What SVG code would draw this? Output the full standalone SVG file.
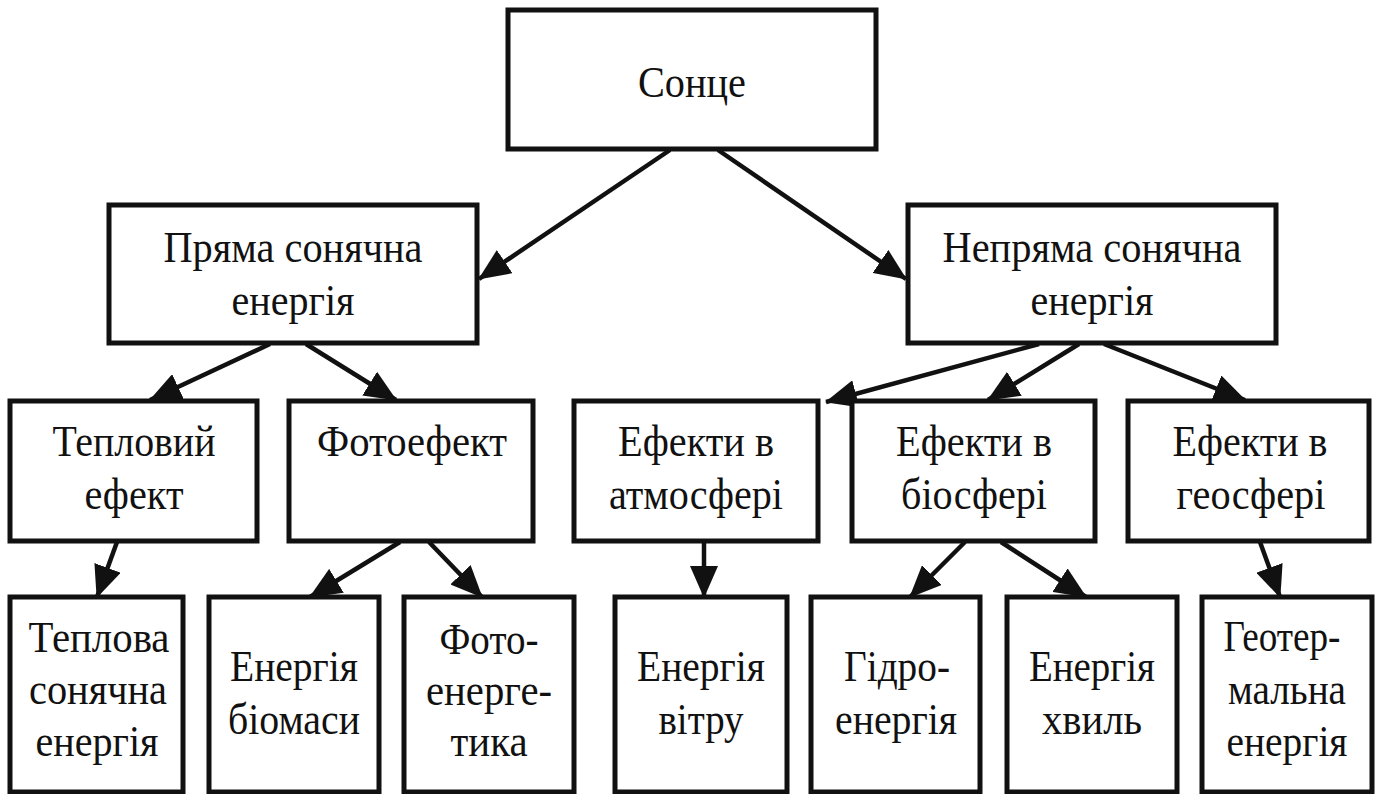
<svg xmlns="http://www.w3.org/2000/svg" width="1382" height="794" viewBox="0 0 1382 794">
<style>
.box{fill:#fff;stroke:#111;stroke-width:5}
.t{font-family:"Liberation Serif","Times New Roman",serif;font-size:44px;fill:#111;text-anchor:middle}
.c{fill:none;stroke:#111;stroke-width:4.5}
</style>
<defs>
<marker id="ah" markerUnits="userSpaceOnUse" markerWidth="34" markerHeight="28" viewBox="0 0 34 28" refX="31" refY="14" orient="auto">
<path d="M0,0 L32,14 L0,28 Z" fill="#111"/>
</marker>
</defs>
<rect width="1382" height="794" fill="#fff"/>
<g id="connectors">
<path class="c" d="M670,150 L479,279" marker-end="url(#ah)"/>
<path class="c" d="M718,150 L906,279" marker-end="url(#ah)"/>
<path class="c" d="M270,344 L150,400" marker-end="url(#ah)"/>
<path class="c" d="M306,344 L396,400" marker-end="url(#ah)"/>
<path class="c" d="M1039,344 L826,402" marker-end="url(#ah)"/>
<path class="c" d="M1079,344 L988,400" marker-end="url(#ah)"/>
<path class="c" d="M1104,344 L1245,400" marker-end="url(#ah)"/>
<path class="c" d="M117,542 L97,597" marker-end="url(#ah)"/>
<path class="c" d="M400,542 L310,597" marker-end="url(#ah)"/>
<path class="c" d="M429,542 L482,597" marker-end="url(#ah)"/>
<path class="c" d="M704,542 L704,597" marker-end="url(#ah)"/>
<path class="c" d="M965,542 L910,597" marker-end="url(#ah)"/>
<path class="c" d="M1001,542 L1086,597" marker-end="url(#ah)"/>
<path class="c" d="M1260,542 L1280,597" marker-end="url(#ah)"/>
</g>
<g id="sun"><rect class="box" x="508" y="10" width="368" height="139"/>
<text class="t" x="692" y="97" textLength="108" lengthAdjust="spacingAndGlyphs">Сонце</text></g>
<g id="direct"><rect class="box" x="109" y="205" width="368" height="138"/>
<text class="t" x="293" y="262" textLength="259" lengthAdjust="spacingAndGlyphs">Пряма сонячна</text>
<text class="t" x="293" y="315" textLength="123" lengthAdjust="spacingAndGlyphs">енергія</text></g>
<g id="indirect"><rect class="box" x="908" y="205" width="368" height="138"/>
<text class="t" x="1092" y="262" textLength="299" lengthAdjust="spacingAndGlyphs">Непряма сонячна</text>
<text class="t" x="1092" y="315" textLength="123" lengthAdjust="spacingAndGlyphs">енергія</text></g>
<g id="thermal-effect"><rect class="box" x="10" y="401" width="247" height="140"/>
<text class="t" x="134" y="456" textLength="163" lengthAdjust="spacingAndGlyphs">Тепловий</text>
<text class="t" x="134" y="509" textLength="99" lengthAdjust="spacingAndGlyphs">ефект</text></g>
<g id="photoeffect"><rect class="box" x="289" y="401" width="244" height="140"/>
<text class="t" x="412" y="456" textLength="190" lengthAdjust="spacingAndGlyphs">Фотоефект</text></g>
<g id="atmosphere"><rect class="box" x="574" y="401" width="244" height="140"/>
<text class="t" x="696" y="456" textLength="156" lengthAdjust="spacingAndGlyphs">Ефекти в</text>
<text class="t" x="696" y="509" textLength="174" lengthAdjust="spacingAndGlyphs">атмосфері</text></g>
<g id="biosphere"><rect class="box" x="852" y="401" width="243" height="140"/>
<text class="t" x="974" y="456" textLength="156" lengthAdjust="spacingAndGlyphs">Ефекти в</text>
<text class="t" x="974" y="509" textLength="146" lengthAdjust="spacingAndGlyphs">біосфері</text></g>
<g id="geosphere"><rect class="box" x="1128" y="401" width="241" height="140"/>
<text class="t" x="1250" y="456" textLength="155" lengthAdjust="spacingAndGlyphs">Ефекти в</text>
<text class="t" x="1251" y="509" textLength="149" lengthAdjust="spacingAndGlyphs">геосфері</text></g>
<g id="solar-thermal"><rect class="box" x="10" y="597" width="173" height="195"/>
<text class="t" x="99" y="652" textLength="141" lengthAdjust="spacingAndGlyphs">Теплова</text>
<text class="t" x="98" y="704" textLength="138" lengthAdjust="spacingAndGlyphs">сонячна</text>
<text class="t" x="97" y="756" textLength="123" lengthAdjust="spacingAndGlyphs">енергія</text></g>
<g id="biomass"><rect class="box" x="209" y="597" width="170" height="195"/>
<text class="t" x="294" y="681" textLength="128" lengthAdjust="spacingAndGlyphs">Енергія</text>
<text class="t" x="294" y="734" textLength="132" lengthAdjust="spacingAndGlyphs">біомаси</text></g>
<g id="photovoltaics"><rect class="box" x="404" y="597" width="170" height="195"/>
<text class="t" x="489" y="654" textLength="99" lengthAdjust="spacingAndGlyphs">Фото-</text>
<text class="t" x="489" y="705" textLength="126" lengthAdjust="spacingAndGlyphs">енерге-</text>
<text class="t" x="489" y="756" textLength="77" lengthAdjust="spacingAndGlyphs">тика</text></g>
<g id="wind"><rect class="box" x="615" y="597" width="172" height="195"/>
<text class="t" x="701" y="681" textLength="128" lengthAdjust="spacingAndGlyphs">Енергія</text>
<text class="t" x="701" y="734" textLength="85" lengthAdjust="spacingAndGlyphs">вітру</text></g>
<g id="hydro"><rect class="box" x="811" y="597" width="169" height="195"/>
<text class="t" x="897" y="681" textLength="106" lengthAdjust="spacingAndGlyphs">Гідро-</text>
<text class="t" x="896" y="734" textLength="122" lengthAdjust="spacingAndGlyphs">енергія</text></g>
<g id="waves"><rect class="box" x="1007" y="597" width="170" height="195"/>
<text class="t" x="1092" y="681" textLength="126" lengthAdjust="spacingAndGlyphs">Енергія</text>
<text class="t" x="1092" y="734" textLength="100" lengthAdjust="spacingAndGlyphs">хвиль</text></g>
<g id="geothermal"><rect class="box" x="1202" y="597" width="170" height="195"/>
<text class="t" x="1282" y="651" textLength="117" lengthAdjust="spacingAndGlyphs">Геотер-</text>
<text class="t" x="1287" y="704" textLength="118" lengthAdjust="spacingAndGlyphs">мальна</text>
<text class="t" x="1287" y="756" textLength="121" lengthAdjust="spacingAndGlyphs">енергія</text></g>
</svg>
